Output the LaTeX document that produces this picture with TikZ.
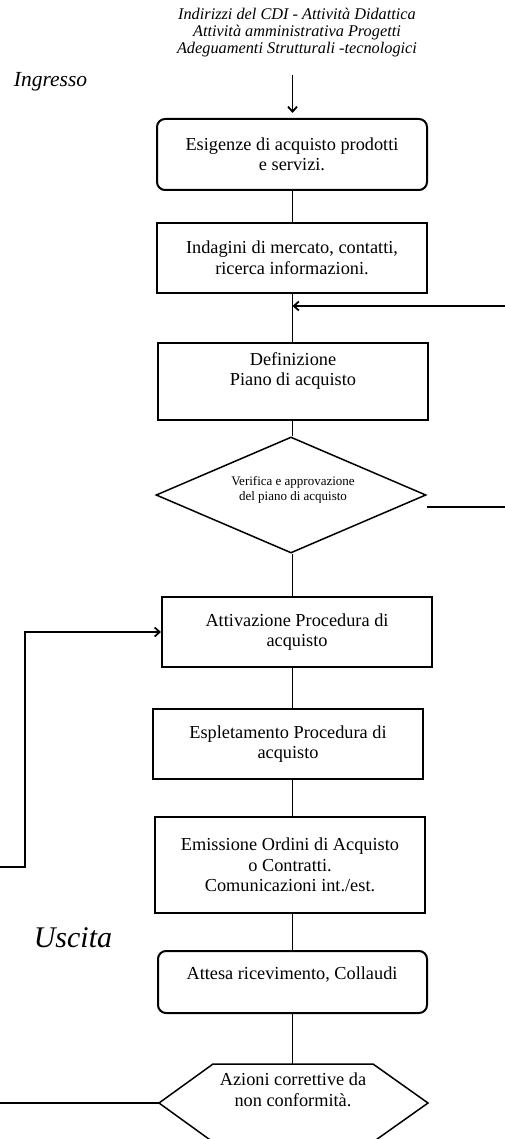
\documentclass[tikz,border=0pt]{standalone}
\usepackage{fontspec}
\setmainfont{Liberation Serif}
\usetikzlibrary{arrows.meta,shapes.geometric}
\begin{document}
\begin{tikzpicture}[x=1pt,y=-1pt,
  boxfont/.style={font=\fontsize{18.3}{20.5}\selectfont},
  stepbox/.style={draw, line width=2pt, minimum width=270pt, inner sep=0pt, align=center, boxfont},
  roundbox/.style={stepbox, rounded corners=8pt},
  boxtext/.style={align=center, inner sep=0pt, boxfont},
  link/.style={line width=1.5pt},
  arrowline/.style={line width=1.8pt, -{Straight Barb[length=5pt,width=9pt]}},
]
\useasboundingbox (0,0) rectangle (505,1139);

% side captions
\node[align=center, inner sep=0pt, font=\itshape\fontsize{16.3}{17}\selectfont] (sources) at (297,33)
  {Indirizzi del CDI - Attività Didattica\\Attività amministrativa Progetti\\Adeguamenti Strutturali -tecnologici};
\node[inner sep=0pt, font=\itshape\fontsize{21.5}{24}\selectfont] (ingresso) at (50.5,82) {Ingresso};
\node[inner sep=0pt, font=\itshape\fontsize{30}{34}\selectfont] (uscita) at (73,938) {Uscita};

% process steps
\node[roundbox, minimum height=71pt] (b1) at (292,154.5) {Esigenze di acquisto prodotti\\e servizi.};
\node[stepbox, minimum height=70pt] (b2) at (292,258) {Indagini di mercato, contatti,\\ricerca informazioni.};
\node[stepbox, minimum height=77pt] (b3) at (293,381.5) {};
\node[boxtext] (b3t) at (293,371) {Definizione\\Piano di acquisto};
\node[draw, shape=diamond, line width=1.5pt, minimum width=270pt, minimum height=116pt, inner sep=0pt] (check) at (291,495) {};
\node[align=center, inner sep=0pt, font=\fontsize{13}{15}\selectfont] (checkt) at (293,490) {Verifica e approvazione\\del piano di acquisto};
\node[stepbox, minimum height=70pt] (b4) at (297,632) {Attivazione Procedura di\\acquisto};
\node[stepbox, minimum height=70pt] (b5) at (288,744) {Espletamento Procedura di\\acquisto};
\node[stepbox, minimum height=96pt] (b6) at (290,865) {Emissione Ordini di Acquisto\\o Contratti.\\Comunicazioni int./est.};
\node[roundbox, minimum height=62pt, minimum width=269pt] (b7) at (292.5,982) {};
\node[boxtext] (b7t) at (292,975) {Attesa ricevimento, Collaudi};

% corrective actions (hexagon)
\coordinate (hexL) at (159,1103);
\coordinate (hexR) at (428,1103);
\coordinate (hexTL) at (213,1064);
\coordinate (hexTR) at (373,1064);
\coordinate (hexBL) at (213,1142);
\coordinate (hexBR) at (373,1142);
\draw[line width=1.5pt, line join=miter] (hexL) -- (hexTL) -- (hexTR) -- (hexR) -- (hexBR) -- (hexBL) -- cycle;
\node[boxtext] (hext) at (293,1090) {Azioni correttive da\\non conformità.};

% main flow
\coordinate (entry) at (292.5,75);
\draw[arrowline] (entry) -- ([yshift=5pt]entry |- b1.north);
\draw[link] (b1.south -| entry) -- (b2.north -| entry);
\draw[link] (b2.south -| entry) -- (b3.north -| entry);
\draw[link] (b3.south -| entry) -- (check.north -| entry);
\draw[link] (check.south -| entry) -- (b4.north -| entry);
\draw[link] (b4.south -| entry) -- (b5.north -| entry);
\draw[link] (b5.south -| entry) -- (b6.north -| entry);
\draw[link] (b6.south -| entry) -- (b7.north -| entry);
\draw[link] (b7.south -| entry) -- (hexTL -| entry);

% return paths
\coordinate (backin) at (505,306);
\draw[arrowline] (backin) -- (backin -| entry);
\coordinate (rejectA) at (427,507);
\coordinate (rejectB) at (505,507);
\draw[line width=1.6pt] (rejectA) -- (rejectB);
\coordinate (loopA) at (0,867);
\coordinate (loopB) at (25,867);
\draw[arrowline] (loopA) -- (loopB) |- (b4.west);
\coordinate (outL) at (0,1103);
\draw[link] (outL) -- (hexL);
\end{tikzpicture}
\end{document}
